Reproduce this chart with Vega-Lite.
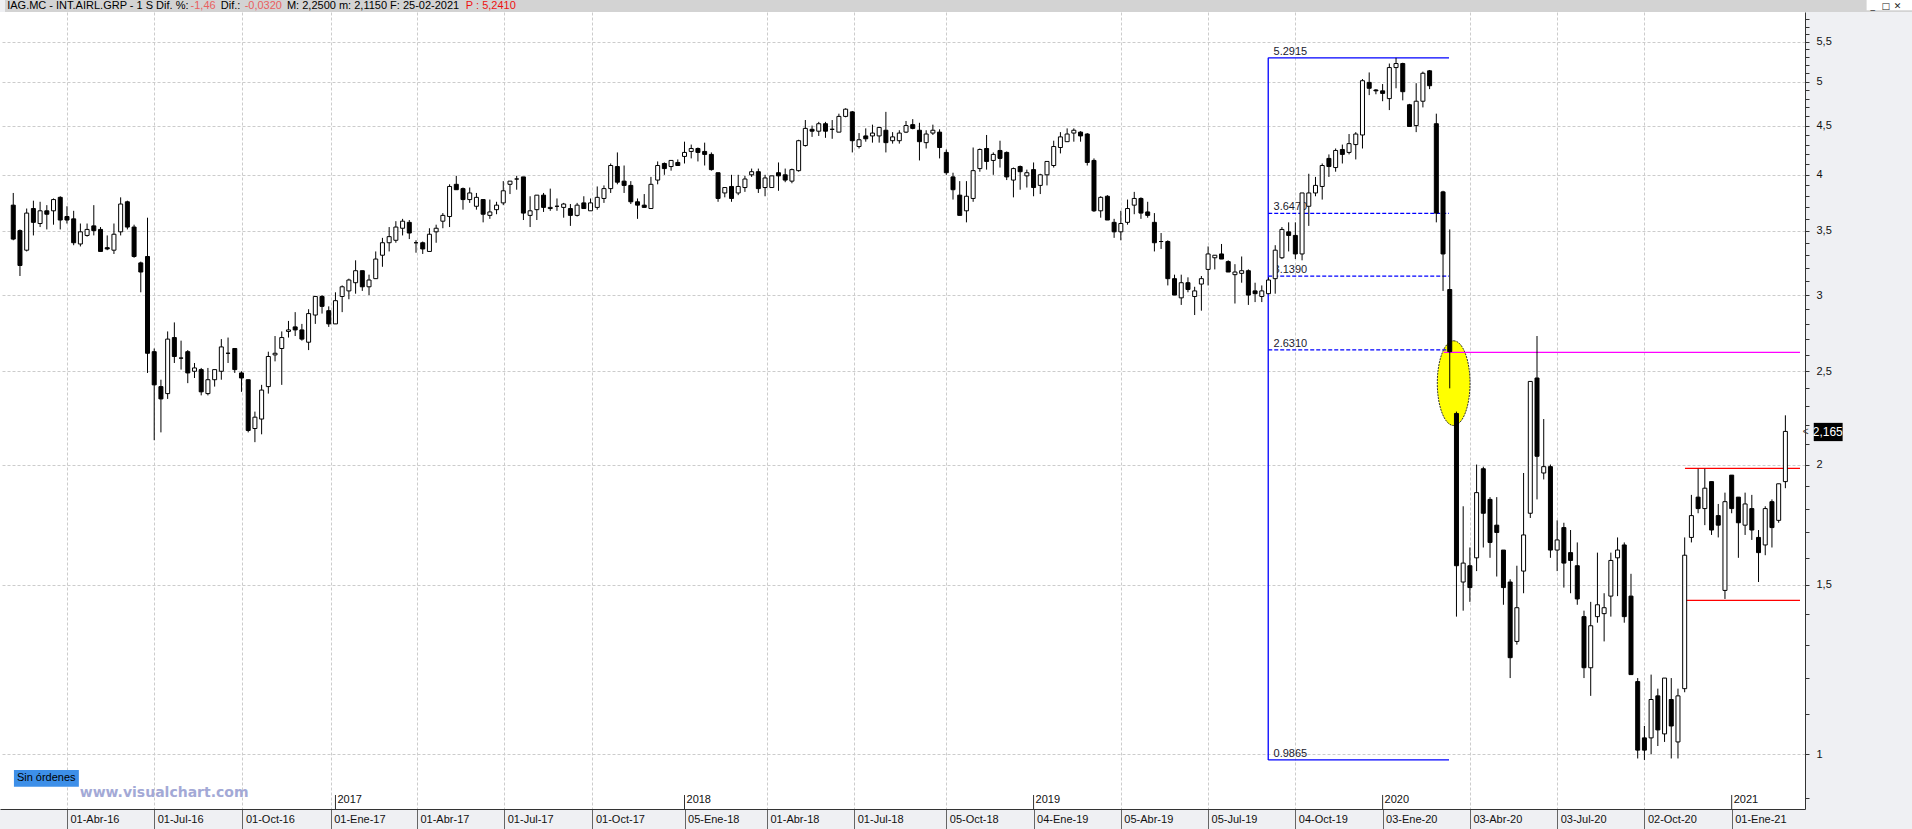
{
"$schema":"https://vega.github.io/schema/vega-lite/v6.json",
"width":1805,"height":797,
"autosize":{"type":"none"},
"padding":{"left":0,"top":12,"right":107,"bottom":20},
"background":"#eff0f3",
"config":{"view":{"fill":"white","stroke":null},"font":"Liberation Sans"},
"data":{"values":[{}]},
"datasets":{
"ohlc":[
{"d":"2016-02-05","o":3.72,"h":3.83,"l":3.42,"c":3.43},
{"d":"2016-02-12","o":3.50,"h":3.51,"l":3.14,"c":3.22},
{"d":"2016-02-19","o":3.34,"h":3.69,"l":3.33,"c":3.65},
{"d":"2016-02-26","o":3.69,"h":3.76,"l":3.46,"c":3.57},
{"d":"2016-03-04","o":3.56,"h":3.75,"l":3.53,"c":3.67},
{"d":"2016-03-11","o":3.67,"h":3.72,"l":3.51,"c":3.64},
{"d":"2016-03-18","o":3.67,"h":3.78,"l":3.55,"c":3.77},
{"d":"2016-03-25","o":3.79,"h":3.80,"l":3.51,"c":3.59},
{"d":"2016-04-01","o":3.62,"h":3.71,"l":3.56,"c":3.59},
{"d":"2016-04-08","o":3.60,"h":3.67,"l":3.38,"c":3.40},
{"d":"2016-04-15","o":3.39,"h":3.56,"l":3.37,"c":3.49},
{"d":"2016-04-22","o":3.46,"h":3.56,"l":3.45,"c":3.51},
{"d":"2016-04-29","o":3.54,"h":3.72,"l":3.46,"c":3.50},
{"d":"2016-05-06","o":3.51,"h":3.53,"l":3.33,"c":3.33},
{"d":"2016-05-13","o":3.36,"h":3.46,"l":3.34,"c":3.35},
{"d":"2016-05-20","o":3.34,"h":3.56,"l":3.31,"c":3.47},
{"d":"2016-05-27","o":3.49,"h":3.79,"l":3.46,"c":3.73},
{"d":"2016-06-03","o":3.75,"h":3.76,"l":3.51,"c":3.53},
{"d":"2016-06-10","o":3.53,"h":3.55,"l":3.28,"c":3.29},
{"d":"2016-06-17","o":3.24,"h":3.25,"l":3.02,"c":3.17},
{"d":"2016-06-24","o":3.29,"h":3.61,"l":2.49,"c":2.61},
{"d":"2016-07-01","o":2.62,"h":2.64,"l":2.12,"c":2.42},
{"d":"2016-07-08","o":2.41,"h":2.45,"l":2.16,"c":2.34},
{"d":"2016-07-15","o":2.37,"h":2.75,"l":2.34,"c":2.70},
{"d":"2016-07-22","o":2.71,"h":2.81,"l":2.55,"c":2.59},
{"d":"2016-07-29","o":2.58,"h":2.69,"l":2.51,"c":2.58},
{"d":"2016-08-05","o":2.62,"h":2.63,"l":2.43,"c":2.49},
{"d":"2016-08-12","o":2.50,"h":2.55,"l":2.46,"c":2.52},
{"d":"2016-08-19","o":2.51,"h":2.52,"l":2.36,"c":2.38},
{"d":"2016-08-26","o":2.37,"h":2.52,"l":2.36,"c":2.45},
{"d":"2016-09-02","o":2.45,"h":2.51,"l":2.41,"c":2.51},
{"d":"2016-09-09","o":2.50,"h":2.70,"l":2.45,"c":2.65},
{"d":"2016-09-16","o":2.61,"h":2.71,"l":2.55,"c":2.61},
{"d":"2016-09-23","o":2.64,"h":2.64,"l":2.49,"c":2.51},
{"d":"2016-09-30","o":2.49,"h":2.50,"l":2.38,"c":2.46},
{"d":"2016-10-07","o":2.45,"h":2.45,"l":2.16,"c":2.17},
{"d":"2016-10-14","o":2.18,"h":2.27,"l":2.11,"c":2.24},
{"d":"2016-10-21","o":2.23,"h":2.42,"l":2.15,"c":2.39},
{"d":"2016-10-28","o":2.41,"h":2.62,"l":2.37,"c":2.59},
{"d":"2016-11-04","o":2.60,"h":2.72,"l":2.56,"c":2.61},
{"d":"2016-11-11","o":2.64,"h":2.75,"l":2.42,"c":2.71},
{"d":"2016-11-18","o":2.75,"h":2.82,"l":2.71,"c":2.76},
{"d":"2016-11-25","o":2.78,"h":2.88,"l":2.72,"c":2.76},
{"d":"2016-12-02","o":2.76,"h":2.80,"l":2.69,"c":2.70},
{"d":"2016-12-09","o":2.68,"h":2.90,"l":2.63,"c":2.87},
{"d":"2016-12-16","o":2.86,"h":2.99,"l":2.80,"c":2.99},
{"d":"2016-12-23","o":2.99,"h":3.00,"l":2.87,"c":2.92},
{"d":"2016-12-30","o":2.89,"h":2.92,"l":2.78,"c":2.80},
{"d":"2017-01-06","o":2.80,"h":3.02,"l":2.80,"c":2.96},
{"d":"2017-01-13","o":2.99,"h":3.07,"l":2.88,"c":3.06},
{"d":"2017-01-20","o":3.03,"h":3.12,"l":2.97,"c":3.11},
{"d":"2017-01-27","o":3.09,"h":3.26,"l":3.01,"c":3.18},
{"d":"2017-02-03","o":3.18,"h":3.18,"l":3.03,"c":3.06},
{"d":"2017-02-10","o":3.06,"h":3.15,"l":3.00,"c":3.11},
{"d":"2017-02-17","o":3.12,"h":3.33,"l":3.12,"c":3.27},
{"d":"2017-02-24","o":3.30,"h":3.44,"l":3.21,"c":3.40},
{"d":"2017-03-03","o":3.40,"h":3.53,"l":3.33,"c":3.45},
{"d":"2017-03-10","o":3.42,"h":3.58,"l":3.40,"c":3.53},
{"d":"2017-03-17","o":3.52,"h":3.60,"l":3.46,"c":3.58},
{"d":"2017-03-24","o":3.57,"h":3.59,"l":3.43,"c":3.48},
{"d":"2017-03-31","o":3.40,"h":3.42,"l":3.32,"c":3.40},
{"d":"2017-04-07","o":3.40,"h":3.41,"l":3.31,"c":3.35},
{"d":"2017-04-14","o":3.33,"h":3.52,"l":3.33,"c":3.47},
{"d":"2017-04-21","o":3.49,"h":3.55,"l":3.40,"c":3.52},
{"d":"2017-04-28","o":3.58,"h":3.65,"l":3.52,"c":3.63},
{"d":"2017-05-05","o":3.62,"h":3.91,"l":3.53,"c":3.89},
{"d":"2017-05-12","o":3.91,"h":3.99,"l":3.86,"c":3.86},
{"d":"2017-05-19","o":3.87,"h":3.88,"l":3.68,"c":3.77},
{"d":"2017-05-26","o":3.77,"h":3.88,"l":3.74,"c":3.83},
{"d":"2017-06-02","o":3.71,"h":3.83,"l":3.68,"c":3.79},
{"d":"2017-06-09","o":3.77,"h":3.77,"l":3.57,"c":3.64},
{"d":"2017-06-16","o":3.63,"h":3.77,"l":3.60,"c":3.66},
{"d":"2017-06-23","o":3.68,"h":3.75,"l":3.64,"c":3.72},
{"d":"2017-06-30","o":3.74,"h":3.94,"l":3.72,"c":3.85},
{"d":"2017-07-07","o":3.91,"h":3.94,"l":3.82,"c":3.94},
{"d":"2017-07-14","o":3.96,"h":3.99,"l":3.86,"c":3.96},
{"d":"2017-07-21","o":3.98,"h":3.98,"l":3.59,"c":3.65},
{"d":"2017-07-28","o":3.63,"h":3.80,"l":3.53,"c":3.67},
{"d":"2017-08-04","o":3.68,"h":3.81,"l":3.59,"c":3.81},
{"d":"2017-08-11","o":3.81,"h":3.83,"l":3.66,"c":3.70},
{"d":"2017-08-18","o":3.69,"h":3.87,"l":3.67,"c":3.70},
{"d":"2017-08-25","o":3.71,"h":3.78,"l":3.67,"c":3.71},
{"d":"2017-09-01","o":3.70,"h":3.74,"l":3.61,"c":3.73},
{"d":"2017-09-08","o":3.69,"h":3.73,"l":3.54,"c":3.63},
{"d":"2017-09-15","o":3.63,"h":3.74,"l":3.62,"c":3.72},
{"d":"2017-09-22","o":3.74,"h":3.80,"l":3.69,"c":3.69},
{"d":"2017-09-29","o":3.67,"h":3.78,"l":3.67,"c":3.74},
{"d":"2017-10-06","o":3.70,"h":3.89,"l":3.68,"c":3.79},
{"d":"2017-10-13","o":3.78,"h":3.90,"l":3.74,"c":3.87},
{"d":"2017-10-20","o":3.87,"h":4.11,"l":3.83,"c":4.09},
{"d":"2017-10-27","o":4.08,"h":4.22,"l":3.91,"c":3.93},
{"d":"2017-11-03","o":3.94,"h":4.09,"l":3.83,"c":3.90},
{"d":"2017-11-10","o":3.90,"h":3.94,"l":3.73,"c":3.75},
{"d":"2017-11-17","o":3.75,"h":3.78,"l":3.60,"c":3.72},
{"d":"2017-11-24","o":3.72,"h":3.82,"l":3.70,"c":3.70},
{"d":"2017-12-01","o":3.69,"h":3.98,"l":3.69,"c":3.91},
{"d":"2017-12-08","o":3.95,"h":4.13,"l":3.91,"c":4.09},
{"d":"2017-12-15","o":4.11,"h":4.12,"l":4.00,"c":4.06},
{"d":"2017-12-22","o":4.08,"h":4.14,"l":4.04,"c":4.14},
{"d":"2017-12-29","o":4.12,"h":4.15,"l":4.09,"c":4.09},
{"d":"2018-01-05","o":4.18,"h":4.33,"l":4.11,"c":4.22},
{"d":"2018-01-12","o":4.23,"h":4.30,"l":4.16,"c":4.26},
{"d":"2018-01-19","o":4.26,"h":4.27,"l":4.13,"c":4.22},
{"d":"2018-01-26","o":4.23,"h":4.32,"l":4.09,"c":4.20},
{"d":"2018-02-02","o":4.20,"h":4.22,"l":4.04,"c":4.05},
{"d":"2018-02-09","o":4.02,"h":4.02,"l":3.75,"c":3.78},
{"d":"2018-02-16","o":3.83,"h":3.88,"l":3.79,"c":3.88},
{"d":"2018-02-23","o":3.89,"h":4.00,"l":3.75,"c":3.78},
{"d":"2018-03-02","o":3.83,"h":4.00,"l":3.81,"c":3.89},
{"d":"2018-03-09","o":3.88,"h":3.99,"l":3.84,"c":3.96},
{"d":"2018-03-16","o":4.00,"h":4.06,"l":3.98,"c":4.03},
{"d":"2018-03-23","o":4.03,"h":4.06,"l":3.83,"c":3.87},
{"d":"2018-03-30","o":3.88,"h":4.00,"l":3.80,"c":3.97},
{"d":"2018-04-06","o":3.88,"h":3.99,"l":3.88,"c":3.99},
{"d":"2018-04-13","o":4.02,"h":4.12,"l":3.85,"c":3.99},
{"d":"2018-04-20","o":4.00,"h":4.06,"l":3.93,"c":3.95},
{"d":"2018-04-27","o":3.94,"h":4.06,"l":3.92,"c":4.05},
{"d":"2018-05-04","o":4.04,"h":4.35,"l":4.03,"c":4.34},
{"d":"2018-05-11","o":4.29,"h":4.56,"l":4.28,"c":4.47},
{"d":"2018-05-18","o":4.46,"h":4.50,"l":4.38,"c":4.44},
{"d":"2018-05-25","o":4.44,"h":4.54,"l":4.39,"c":4.52},
{"d":"2018-06-01","o":4.52,"h":4.54,"l":4.37,"c":4.44},
{"d":"2018-06-08","o":4.46,"h":4.56,"l":4.36,"c":4.46},
{"d":"2018-06-15","o":4.43,"h":4.63,"l":4.43,"c":4.60},
{"d":"2018-06-22","o":4.60,"h":4.69,"l":4.59,"c":4.68},
{"d":"2018-06-29","o":4.65,"h":4.66,"l":4.22,"c":4.34},
{"d":"2018-07-06","o":4.28,"h":4.42,"l":4.26,"c":4.35},
{"d":"2018-07-13","o":4.39,"h":4.47,"l":4.33,"c":4.36},
{"d":"2018-07-20","o":4.39,"h":4.51,"l":4.32,"c":4.42},
{"d":"2018-07-27","o":4.39,"h":4.48,"l":4.32,"c":4.48},
{"d":"2018-08-03","o":4.45,"h":4.65,"l":4.22,"c":4.32},
{"d":"2018-08-10","o":4.34,"h":4.43,"l":4.31,"c":4.38},
{"d":"2018-08-17","o":4.34,"h":4.45,"l":4.31,"c":4.42},
{"d":"2018-08-24","o":4.43,"h":4.55,"l":4.42,"c":4.50},
{"d":"2018-08-31","o":4.51,"h":4.57,"l":4.46,"c":4.47},
{"d":"2018-09-07","o":4.45,"h":4.53,"l":4.14,"c":4.33},
{"d":"2018-09-14","o":4.32,"h":4.45,"l":4.26,"c":4.41},
{"d":"2018-09-21","o":4.42,"h":4.51,"l":4.40,"c":4.45},
{"d":"2018-09-28","o":4.43,"h":4.46,"l":4.16,"c":4.27},
{"d":"2018-10-05","o":4.22,"h":4.25,"l":4.00,"c":4.02},
{"d":"2018-10-12","o":3.98,"h":4.02,"l":3.77,"c":3.86},
{"d":"2018-10-19","o":3.81,"h":3.94,"l":3.63,"c":3.63},
{"d":"2018-10-26","o":3.67,"h":3.94,"l":3.57,"c":3.80},
{"d":"2018-11-02","o":3.78,"h":4.27,"l":3.75,"c":4.04},
{"d":"2018-11-09","o":4.06,"h":4.26,"l":4.03,"c":4.25},
{"d":"2018-11-16","o":4.26,"h":4.40,"l":4.05,"c":4.13},
{"d":"2018-11-23","o":4.14,"h":4.22,"l":4.00,"c":4.20},
{"d":"2018-11-30","o":4.24,"h":4.34,"l":4.07,"c":4.16},
{"d":"2018-12-07","o":4.22,"h":4.23,"l":3.95,"c":3.98},
{"d":"2018-12-14","o":3.95,"h":4.07,"l":3.79,"c":4.06},
{"d":"2018-12-21","o":4.08,"h":4.09,"l":3.86,"c":4.03},
{"d":"2018-12-28","o":3.99,"h":4.05,"l":3.88,"c":4.02},
{"d":"2019-01-04","o":4.05,"h":4.12,"l":3.80,"c":3.88},
{"d":"2019-01-11","o":3.90,"h":4.01,"l":3.82,"c":4.00},
{"d":"2019-01-18","o":4.00,"h":4.13,"l":3.90,"c":4.13},
{"d":"2019-01-25","o":4.09,"h":4.34,"l":4.07,"c":4.28},
{"d":"2019-02-01","o":4.27,"h":4.43,"l":4.21,"c":4.38},
{"d":"2019-02-08","o":4.33,"h":4.47,"l":4.33,"c":4.41},
{"d":"2019-02-15","o":4.42,"h":4.47,"l":4.33,"c":4.45},
{"d":"2019-02-22","o":4.43,"h":4.44,"l":4.33,"c":4.39},
{"d":"2019-03-01","o":4.41,"h":4.42,"l":4.09,"c":4.12},
{"d":"2019-03-08","o":4.14,"h":4.16,"l":3.66,"c":3.67},
{"d":"2019-03-15","o":3.67,"h":3.80,"l":3.61,"c":3.79},
{"d":"2019-03-22","o":3.80,"h":3.81,"l":3.59,"c":3.59},
{"d":"2019-03-29","o":3.57,"h":3.60,"l":3.44,"c":3.49},
{"d":"2019-04-05","o":3.49,"h":3.67,"l":3.42,"c":3.56},
{"d":"2019-04-12","o":3.57,"h":3.77,"l":3.55,"c":3.69},
{"d":"2019-04-19","o":3.72,"h":3.84,"l":3.64,"c":3.78},
{"d":"2019-04-26","o":3.78,"h":3.79,"l":3.60,"c":3.65},
{"d":"2019-05-03","o":3.66,"h":3.75,"l":3.61,"c":3.63},
{"d":"2019-05-10","o":3.57,"h":3.65,"l":3.33,"c":3.40},
{"d":"2019-05-17","o":3.41,"h":3.48,"l":3.35,"c":3.41},
{"d":"2019-05-24","o":3.41,"h":3.42,"l":3.07,"c":3.12},
{"d":"2019-05-31","o":3.12,"h":3.15,"l":3.00,"c":3.00},
{"d":"2019-06-07","o":2.98,"h":3.15,"l":2.93,"c":3.09},
{"d":"2019-06-14","o":3.09,"h":3.13,"l":3.02,"c":3.04},
{"d":"2019-06-21","o":2.99,"h":3.06,"l":2.86,"c":3.03},
{"d":"2019-06-28","o":3.08,"h":3.14,"l":2.89,"c":3.12},
{"d":"2019-07-05","o":3.19,"h":3.37,"l":3.07,"c":3.31},
{"d":"2019-07-12","o":3.28,"h":3.30,"l":3.19,"c":3.30},
{"d":"2019-07-19","o":3.31,"h":3.39,"l":3.27,"c":3.27},
{"d":"2019-07-26","o":3.25,"h":3.26,"l":3.17,"c":3.17},
{"d":"2019-08-02","o":3.15,"h":3.23,"l":2.94,"c":3.17},
{"d":"2019-08-09","o":3.16,"h":3.29,"l":3.09,"c":3.18},
{"d":"2019-08-16","o":3.18,"h":3.19,"l":2.93,"c":3.00},
{"d":"2019-08-23","o":3.03,"h":3.09,"l":2.95,"c":3.01},
{"d":"2019-08-30","o":2.99,"h":3.07,"l":2.95,"c":3.03},
{"d":"2019-09-06","o":3.01,"h":3.13,"l":3.01,"c":3.11},
{"d":"2019-09-13","o":3.12,"h":3.38,"l":3.01,"c":3.34},
{"d":"2019-09-20","o":3.28,"h":3.53,"l":3.27,"c":3.51},
{"d":"2019-09-27","o":3.49,"h":3.57,"l":3.33,"c":3.46},
{"d":"2019-10-04","o":3.46,"h":3.57,"l":3.27,"c":3.31},
{"d":"2019-10-11","o":3.31,"h":3.83,"l":3.26,"c":3.83},
{"d":"2019-10-18","o":3.71,"h":4.01,"l":3.54,"c":3.83},
{"d":"2019-10-25","o":3.83,"h":3.98,"l":3.80,"c":3.90},
{"d":"2019-11-01","o":3.89,"h":4.11,"l":3.77,"c":4.09},
{"d":"2019-11-08","o":4.16,"h":4.20,"l":3.98,"c":4.08},
{"d":"2019-11-15","o":4.07,"h":4.26,"l":4.03,"c":4.24},
{"d":"2019-11-22","o":4.25,"h":4.30,"l":4.11,"c":4.20},
{"d":"2019-11-29","o":4.22,"h":4.41,"l":4.20,"c":4.31},
{"d":"2019-12-06","o":4.30,"h":4.43,"l":4.15,"c":4.41},
{"d":"2019-12-13","o":4.40,"h":5.03,"l":4.26,"c":5.01},
{"d":"2019-12-20","o":4.99,"h":5.11,"l":4.84,"c":4.92},
{"d":"2019-12-27","o":4.90,"h":4.91,"l":4.85,"c":4.89},
{"d":"2020-01-03","o":4.89,"h":4.97,"l":4.77,"c":4.86},
{"d":"2020-01-10","o":4.80,"h":5.22,"l":4.67,"c":5.17},
{"d":"2020-01-17","o":5.17,"h":5.2915,"l":4.92,"c":5.22},
{"d":"2020-01-24","o":5.22,"h":5.23,"l":4.78,"c":4.88},
{"d":"2020-01-31","o":4.73,"h":4.74,"l":4.49,"c":4.49},
{"d":"2020-02-07","o":4.50,"h":4.98,"l":4.43,"c":4.77},
{"d":"2020-02-14","o":4.77,"h":5.12,"l":4.70,"c":5.10},
{"d":"2020-02-21","o":5.13,"h":5.14,"l":4.91,"c":4.95},
{"d":"2020-02-28","o":4.52,"h":4.63,"l":3.57,"c":3.65},
{"d":"2020-03-06","o":3.84,"h":3.85,"l":3.03,"c":3.31},
{"d":"2020-03-13","o":3.04,"h":3.51,"l":2.40,"c":2.62},
{"d":"2020-03-20","o":2.26,"h":2.27,"l":1.39,"c":1.57},
{"d":"2020-03-27","o":1.51,"h":1.81,"l":1.41,"c":1.58},
{"d":"2020-04-03","o":1.57,"h":1.64,"l":1.44,"c":1.49},
{"d":"2020-04-10","o":1.60,"h":2.00,"l":1.55,"c":1.87},
{"d":"2020-04-17","o":1.98,"h":1.99,"l":1.64,"c":1.78},
{"d":"2020-04-24","o":1.84,"h":1.85,"l":1.60,"c":1.66},
{"d":"2020-05-01","o":1.73,"h":1.85,"l":1.53,"c":1.70},
{"d":"2020-05-08","o":1.63,"h":1.63,"l":1.43,"c":1.49},
{"d":"2020-05-15","o":1.51,"h":1.52,"l":1.20,"c":1.26},
{"d":"2020-05-22","o":1.31,"h":1.57,"l":1.30,"c":1.42},
{"d":"2020-05-29","o":1.55,"h":1.96,"l":1.47,"c":1.69},
{"d":"2020-06-05","o":1.78,"h":2.44,"l":1.76,"c":2.44},
{"d":"2020-06-12","o":2.46,"h":2.72,"l":1.84,"c":2.04},
{"d":"2020-06-19","o":1.96,"h":2.23,"l":1.93,"c":1.99},
{"d":"2020-06-26","o":1.99,"h":2.00,"l":1.60,"c":1.63},
{"d":"2020-07-03","o":1.63,"h":1.75,"l":1.55,"c":1.67},
{"d":"2020-07-10","o":1.72,"h":1.74,"l":1.49,"c":1.58},
{"d":"2020-07-17","o":1.62,"h":1.71,"l":1.47,"c":1.59},
{"d":"2020-07-24","o":1.57,"h":1.66,"l":1.43,"c":1.45},
{"d":"2020-07-31","o":1.39,"h":1.41,"l":1.20,"c":1.23},
{"d":"2020-08-07","o":1.23,"h":1.44,"l":1.15,"c":1.36},
{"d":"2020-08-14","o":1.39,"h":1.62,"l":1.37,"c":1.43},
{"d":"2020-08-21","o":1.40,"h":1.47,"l":1.31,"c":1.42},
{"d":"2020-08-28","o":1.46,"h":1.62,"l":1.39,"c":1.59},
{"d":"2020-09-04","o":1.60,"h":1.68,"l":1.46,"c":1.63},
{"d":"2020-09-11","o":1.65,"h":1.66,"l":1.37,"c":1.39},
{"d":"2020-09-18","o":1.46,"h":1.54,"l":1.21,"c":1.21},
{"d":"2020-09-25","o":1.19,"h":1.20,"l":0.99,"c":1.01},
{"d":"2020-10-02","o":1.04,"h":1.07,"l":0.9865,"c":1.01},
{"d":"2020-10-09","o":1.04,"h":1.21,"l":1.00,"c":1.14},
{"d":"2020-10-16","o":1.15,"h":1.17,"l":1.02,"c":1.06},
{"d":"2020-10-23","o":1.05,"h":1.20,"l":1.03,"c":1.20},
{"d":"2020-10-30","o":1.14,"h":1.20,"l":0.99,"c":1.07},
{"d":"2020-11-06","o":1.03,"h":1.17,"l":0.99,"c":1.15},
{"d":"2020-11-13","o":1.17,"h":1.68,"l":1.16,"c":1.61},
{"d":"2020-11-20","o":1.68,"h":1.86,"l":1.66,"c":1.77},
{"d":"2020-11-27","o":1.85,"h":1.98,"l":1.78,"c":1.80},
{"d":"2020-12-04","o":1.80,"h":1.98,"l":1.73,"c":1.89},
{"d":"2020-12-11","o":1.92,"h":1.92,"l":1.69,"c":1.71},
{"d":"2020-12-18","o":1.77,"h":1.82,"l":1.68,"c":1.73},
{"d":"2020-12-25","o":1.48,"h":1.87,"l":1.45,"c":1.83},
{"d":"2021-01-01","o":1.95,"h":1.95,"l":1.78,"c":1.80},
{"d":"2021-01-08","o":1.85,"h":1.85,"l":1.60,"c":1.74},
{"d":"2021-01-15","o":1.73,"h":1.87,"l":1.69,"c":1.82},
{"d":"2021-01-22","o":1.80,"h":1.86,"l":1.67,"c":1.71},
{"d":"2021-01-29","o":1.68,"h":1.71,"l":1.51,"c":1.62},
{"d":"2021-02-05","o":1.65,"h":1.81,"l":1.61,"c":1.80},
{"d":"2021-02-12","o":1.83,"h":1.84,"l":1.64,"c":1.72},
{"d":"2021-02-19","o":1.75,"h":1.91,"l":1.74,"c":1.91},
{"d":"2021-02-26","o":1.92,"h":2.25,"l":1.89,"c":2.165}
],
"fib":[
{"level":5.2915,"label":"5.2915","kind":"solid"},
{"level":3.647,"label":"3.6470","kind":"dash"},
{"level":3.139,"label":"3.1390","kind":"dash"},
{"level":2.631,"label":"2.6310","kind":"dash"},
{"level":0.9865,"label":"0.9865","kind":"solid"}
],
"years":[
{"d":"2017-01-06","t":"2017"},
{"d":"2018-01-05","t":"2018"},
{"d":"2019-01-04","t":"2019"},
{"d":"2020-01-03","t":"2020"},
{"d":"2021-01-01","t":"2021"}
]
},
"layer":[
{"mark":{"type":"rect","color":"#d3d3d3"},
 "encoding":{"x":{"datum":{"year":2016,"month":1,"date":27,"hours":9,"minutes":26,"utc":true}},"x2":{"datum":{"year":2021,"month":9,"date":1,"utc":true}},"y":{"datum":5.905},"y2":{"datum":8}}},
{"mark":{"type":"rect","color":"#ffffff"},
 "encoding":{"x":{"datum":{"year":2021,"month":5,"date":21,"hours":17,"utc":true}},"x2":{"datum":{"year":2021,"month":8,"date":1,"utc":true}},"y":{"datum":5.93},"y2":{"datum":6.1}}},
{"mark":{"type":"text","align":"center","baseline":"middle","fontSize":9,"font":"DejaVu Sans","color":"#222222"},
 "encoding":{"x":{"datum":{"year":2021,"month":5,"date":28,"utc":true}},"y":{"datum":5.985},"text":{"value":"_"}}},
{"mark":{"type":"text","align":"center","baseline":"middle","fontSize":9,"font":"DejaVu Sans","color":"#222222"},
 "encoding":{"x":{"datum":{"year":2021,"month":6,"date":10,"hours":14,"utc":true}},"y":{"datum":5.985},"text":{"value":"□"}}},
{"mark":{"type":"text","align":"center","baseline":"middle","fontSize":9,"font":"DejaVu Sans","color":"#222222"},
 "encoding":{"x":{"datum":{"year":2021,"month":6,"date":23,"utc":true}},"y":{"datum":5.985},"text":{"value":"✕"}}},
{"mark":{"type":"point","shape":"M 0 -1 A 0.386 1 0 1 1 0 1 A 0.386 1 0 1 1 0 -1 Z","filled":true,"fill":"#ffff00","stroke":"#333333","strokeWidth":1,"strokeDash":[2,1],"size":7174,"opacity":1,"fillOpacity":1},
 "encoding":{"x":{"datum":{"year":2020,"month":3,"date":17,"hours":2,"utc":true}},"y":{"datum":2.43}}},
{"data":{"name":"fib"},"mark":{"type":"rule","color":"#0000ff","strokeWidth":1.3},
 "encoding":{"x":{"datum":{"year":2019,"month":9,"date":5,"hours":17,"utc":true}},"x2":{"datum":{"year":2020,"month":3,"date":12,"hours":5,"utc":true}},"y":{"field":"level","type":"quantitative","title":null},
 "strokeDash":{"condition":{"test":"datum.kind == 'dash'","value":[4,2]},"value":[1,0]}}},
{"mark":{"type":"rule","color":"#0000ff","strokeWidth":1.3},
 "encoding":{"x":{"datum":{"year":2019,"month":9,"date":5,"hours":17,"utc":true}},"y":{"datum":0.9865},"y2":{"datum":5.2915}}},
{"data":{"name":"fib"},"mark":{"type":"text","align":"left","baseline":"alphabetic","dy":-3,"fontSize":11,"color":"#1a1a2e"},
 "encoding":{"x":{"datum":{"year":2019,"month":9,"date":11,"hours":7,"utc":true}},"y":{"field":"level","type":"quantitative","title":null},"text":{"field":"label"}}},
{"mark":{"type":"rule","color":"#ff00ff","strokeWidth":1.3},
 "encoding":{"x":{"datum":{"year":2020,"month":3,"date":6,"hours":17,"utc":true}},"x2":{"datum":{"year":2021,"month":3,"date":13,"hours":6,"utc":true}},"y":{"datum":2.615}}},
{"mark":{"type":"rule","color":"#ff0000","strokeWidth":1.3},
 "encoding":{"x":{"datum":{"year":2020,"month":11,"date":13,"hours":7,"utc":true}},"x2":{"datum":{"year":2021,"month":3,"date":13,"hours":6,"utc":true}},"y":{"datum":1.982}}},
{"mark":{"type":"rule","color":"#ff0000","strokeWidth":1.3},
 "encoding":{"x":{"datum":{"year":2020,"month":11,"date":13,"hours":7,"utc":true}},"x2":{"datum":{"year":2021,"month":3,"date":13,"hours":6,"utc":true}},"y":{"datum":1.445}}},
{"data":{"name":"ohlc"},"mark":{"type":"rule","color":"#000000","strokeWidth":1},
 "encoding":{
  "x":{"field":"d","type":"temporal","title":null,
   "scale":{"type":"utc","domain":[{"year":2016,"month":1,"date":27,"hours":9,"minutes":26,"utc":true},{"year":2021,"month":3,"date":13,"hours":6,"utc":true}]},
   "axis":{"orient":"bottom","title":null,
    "values":[{"year":2016,"month":4,"date":1,"utc":true},{"year":2016,"month":7,"date":1,"utc":true},{"year":2016,"month":10,"date":1,"utc":true},{"year":2017,"month":1,"date":1,"utc":true},{"year":2017,"month":4,"date":1,"utc":true},{"year":2017,"month":7,"date":1,"utc":true},{"year":2017,"month":10,"date":1,"utc":true},{"year":2018,"month":1,"date":5,"utc":true},{"year":2018,"month":4,"date":1,"utc":true},{"year":2018,"month":7,"date":1,"utc":true},{"year":2018,"month":10,"date":5,"utc":true},{"year":2019,"month":1,"date":4,"utc":true},{"year":2019,"month":4,"date":5,"utc":true},{"year":2019,"month":7,"date":5,"utc":true},{"year":2019,"month":10,"date":4,"utc":true},{"year":2020,"month":1,"date":3,"utc":true},{"year":2020,"month":4,"date":3,"utc":true},{"year":2020,"month":7,"date":3,"utc":true},{"year":2020,"month":10,"date":2,"utc":true},{"year":2021,"month":1,"date":1,"utc":true}],
    "labelExpr":"utcFormat(datum.value,'%d') + '-' + ['Ene','Feb','Mar','Abr','May','Jun','Jul','Ago','Sep','Oct','Nov','Dic'][utcmonth(datum.value)] + '-' + utcFormat(datum.value,'%y')",
    "labelAlign":"left","labelBaseline":"top","labelOffset":3,"labelPadding":-16,"tickSize":20,"tickColor":"#666666","domainColor":"#333333",
    "labelFontSize":11,"labelColor":"#111111","labelFont":"Liberation Sans","labelOverlap":false,"labelFlush":false,"labelBound":false,
    "grid":true,"gridColor":"#cccccc","gridDash":[3,2],
    "gridOpacity":{"condition":{"test":"utcmonth(datum.value) == 0 && utcyear(datum.value) >= 2018","value":0},"value":1}}},
  "y":{"field":"l","type":"quantitative","title":null,
   "scale":{"type":"log","domain":[0.8773,5.905],"nice":false,"zero":false},
   "axis":{"orient":"right","title":null,
    "values":[0.9,1,1.1,1.2,1.3,1.4,1.5,1.6,1.7,1.8,1.9,2,2.1,2.2,2.3,2.4,2.5,2.6,2.7,2.8,2.9,3,3.1,3.2,3.3,3.4,3.5,3.6,3.7,3.8,3.9,4,4.1,4.2,4.3,4.4,4.5,4.6,4.7,4.8,4.9,5,5.1,5.2,5.3,5.4,5.5,5.6,5.7,5.8],
    "labelExpr":"abs(datum.value*2 - round(datum.value*2)) < 0.001 ? replace(format(datum.value, '.1~f'), '.', ',') : ''",
    "tickSize":4,"labelPadding":7,"labelAlign":"left","labelBaseline":"middle","tickColor":"#333333","domainColor":"#333333",
    "labelFontSize":11,"labelColor":"#111111","labelFont":"Liberation Sans","labelOverlap":false,"labelBound":false,"labelFlush":false,
    "grid":true,"gridColor":"#cccccc","gridDash":[3,2],
    "gridOpacity":{"condition":{"test":"abs(datum.value*2 - round(datum.value*2)) < 0.001","value":1},"value":0}}},
  "y2":{"field":"h"}}},
{"data":{"name":"ohlc"},"mark":{"type":"bar","size":4,"stroke":"#000000","strokeWidth":1},
 "encoding":{"x":{"field":"d","type":"temporal","title":null},"y":{"field":"o","type":"quantitative","title":null},"y2":{"field":"c"},
  "fill":{"condition":{"test":"datum.c < datum.o","value":"#000000"},"value":"#ffffff"}}},
{"data":{"name":"years"},"mark":{"type":"rule","color":"#333333","strokeWidth":1},
 "encoding":{"x":{"field":"d","type":"temporal","title":null},"y":{"datum":0.8773},"y2":{"datum":0.9072}}},
{"data":{"name":"years"},"mark":{"type":"text","align":"left","baseline":"middle","dx":2,"fontSize":11,"color":"#111111"},
 "encoding":{"x":{"field":"d","type":"temporal","title":null},"y":{"datum":0.8964},"text":{"field":"t"}}},
{"mark":{"type":"text","align":"left","baseline":"middle","fontSize":11,"color":"#000000"},
 "encoding":{"x":{"datum":{"year":2016,"month":1,"date":29,"hours":16,"utc":true}},"y":{"datum":5.99},"text":{"value":"IAG.MC - INT.AIRL.GRP -  1 S  Dif. %:"}}},
{"mark":{"type":"text","align":"left","baseline":"middle","fontSize":11,"color":"#e96060"},
 "encoding":{"x":{"datum":{"year":2016,"month":8,"date":7,"hours":22,"utc":true}},"y":{"datum":5.99},"text":{"value":"-1,46"}}},
{"mark":{"type":"text","align":"left","baseline":"middle","fontSize":11,"color":"#000000"},
 "encoding":{"x":{"datum":{"year":2016,"month":9,"date":8,"hours":10,"utc":true}},"y":{"datum":5.99},"text":{"value":"Dif.:"}}},
{"mark":{"type":"text","align":"left","baseline":"middle","fontSize":11,"color":"#e96060"},
 "encoding":{"x":{"datum":{"year":2016,"month":10,"date":3,"hours":7,"utc":true}},"y":{"datum":5.99},"text":{"value":"-0,0320"}}},
{"mark":{"type":"text","align":"left","baseline":"middle","fontSize":11,"color":"#000000"},
 "encoding":{"x":{"datum":{"year":2016,"month":11,"date":16,"hours":10,"utc":true}},"y":{"datum":5.99},"text":{"value":"M: 2,2500  m: 2,1150  F: 25-02-2021"}}},
{"mark":{"type":"text","align":"left","baseline":"middle","fontSize":11,"color":"#ee1111"},
 "encoding":{"x":{"datum":{"year":2017,"month":5,"date":22,"utc":true}},"y":{"datum":5.99},"text":{"value":"P : 5,2410"}}},
{"mark":{"type":"rect","color":"#3d8fe8"},
 "encoding":{"x":{"datum":{"year":2016,"month":2,"date":5,"hours":17,"utc":true}},"x2":{"datum":{"year":2016,"month":4,"date":13,"hours":10,"utc":true}},"y":{"datum":0.9254},"y2":{"datum":0.9631}}},
{"mark":{"type":"text","align":"left","baseline":"middle","fontSize":11,"color":"#000000"},
 "encoding":{"x":{"datum":{"year":2016,"month":2,"date":8,"hours":19,"utc":true}},"y":{"datum":0.944},"text":{"value":"Sin órdenes"}}},
{"mark":{"type":"text","align":"left","baseline":"middle","fontSize":14,"fontWeight":"bold","font":"DejaVu Sans","color":"#a3a9d6"},
 "encoding":{"x":{"datum":{"year":2016,"month":4,"date":14,"hours":7,"utc":true}},"y":{"datum":0.9116},"text":{"value":"www.visualchart.com"}}},
{"mark":{"type":"rect","color":"#000000"},
 "encoding":{"x":{"datum":{"year":2021,"month":3,"date":27,"hours":14,"utc":true}},"x2":{"datum":{"year":2021,"month":4,"date":26,"hours":17,"utc":true}},"y":{"datum":2.1153},"y2":{"datum":2.2097}}},
{"mark":{"type":"text","align":"center","baseline":"middle","fontSize":12,"color":"#ffffff"},
 "encoding":{"x":{"datum":{"year":2021,"month":4,"date":11,"hours":5,"utc":true}},"y":{"datum":2.16},"text":{"value":"2,165"}}},
{"mark":{"type":"text","align":"center","baseline":"middle","fontSize":10,"color":"#333333"},
 "encoding":{"x":{"datum":{"year":2021,"month":3,"date":19,"hours":7,"utc":true}},"y":{"datum":2.16},"text":{"value":"<"}}}
]
}
